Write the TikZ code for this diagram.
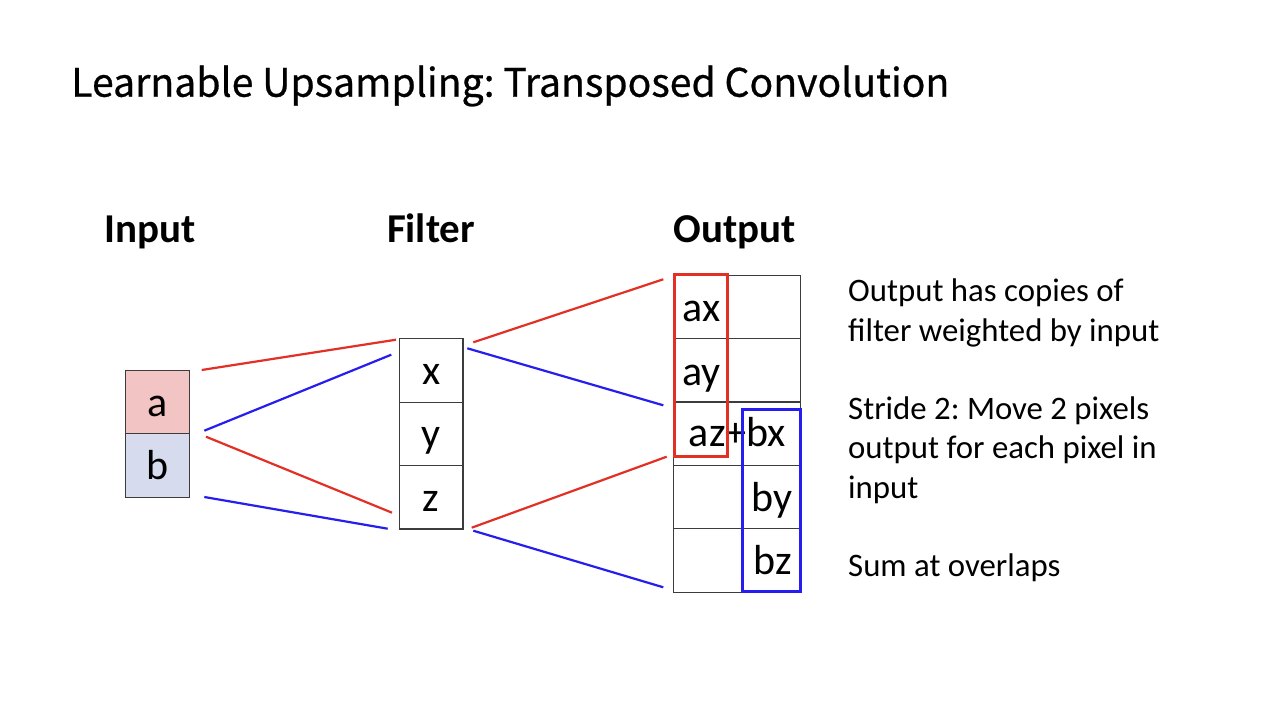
\documentclass[tikz,border=0pt]{standalone}
\usepackage{fontspec}
\setmainfont{Carlito}
\newfontfamily\titlefont[FakeBold=0.6]{Noto Sans CJK KR}
\definecolor{cellA}{RGB}{242,196,196}
\definecolor{cellB}{RGB}{214,220,238}
\definecolor{redL}{RGB}{226,48,38}
\definecolor{blueL}{RGB}{38,30,238}
\definecolor{gridC}{RGB}{60,60,60}
\tikzset{
  cell/.style={draw=gridC, line width=1.2pt, inner sep=0pt, minimum width=63.4pt, minimum height=63.4pt,
    text height=28pt, text depth=0pt, font=\fontsize{42}{42}\selectfont},
  orow/.style={draw=gridC, line width=1.2pt, inner sep=0pt, minimum width=127.4pt, minimum height=63.4pt},
  otext/.style={anchor=base, inner sep=0pt, font=\fontsize{42}{42}\selectfont},
  hdr/.style={anchor=base, inner sep=0pt, font=\fontsize{41}{41}\selectfont\bfseries},
  body/.style={anchor=base west, inner sep=0pt, font=\fontsize{32.8}{39.3}\selectfont, align=left},
  redc/.style={draw=redL, line width=2.2pt},
  bluec/.style={draw=blueL, line width=2.2pt},
  hibox/.style={line width=3pt, inner sep=0pt, minimum height=182.7pt}
}
\begin{document}
\frenchspacing
\begin{tikzpicture}[x=1pt,y=-1pt]
\useasboundingbox[fill=white] (0,0) rectangle (1280,720);
% title
\node[anchor=base west, inner sep=0pt, font=\titlefont\fontsize{39.2}{39.2}\selectfont] (title) at (71,96.7) {Learnable Upsampling: Transposed Convolution};
% headers
\node[hdr] (hin) at (150,242.5) {Input};
\node[hdr] (hfi) at (431,242.5) {Filter};
\node[hdr] (hout) at (735,242.5) {Output};
% input
\node[cell, fill=cellA] (a) at (157.5,402) {a};
\node[cell, fill=cellB] (b) at (157.5,465.4) {b};
% filter
\node[cell] (x) at (431.2,370.5) {x};
\node[cell] (y) at (431.2,433.9) {y};
\node[cell] (z) at (431.2,497.3) {z};
% output rows
\node[orow] (o1) at (737,306.9) {};
\node[orow] (o2) at (737,370.3) {};
\node[orow] (o3) at (737,433.7) {};
\node[orow] (o4) at (737,497.1) {};
\node[orow] (o5) at (737,560.5) {};
\node[otext] (tax) at (701.3,321.7) {ax};
\node[otext] (tay) at (701.3,385) {ay};
\node[otext] (taz) at (737.5,446.7) {az+bx};
\node[otext] (tby) at (771.7,511.7) {by};
\node[otext] (tbz) at (773,574) {bz};
\node[hibox, draw=redL, minimum width=53.4pt] (rbox) at (701,365.35) {};
\node[hibox, draw=blueL, minimum width=58pt] (bbox) at (771.7,500.35) {};
% connector ends
\coordinate (r1s) at (201.7,370);   \coordinate (r1e) at (396,339.7);
\coordinate (b1s) at (204.3,430.7); \coordinate (b1e) at (391.3,354.7);
\coordinate (r2s) at (206,436.7);   \coordinate (r2e) at (392,512.7);
\coordinate (b2s) at (204.3,497);   \coordinate (b2e) at (387.7,528.7);
\coordinate (r3s) at (473.3,342.3); \coordinate (r3e) at (663.3,279.3);
\coordinate (b3s) at (467.3,348.3); \coordinate (b3e) at (663.3,405.3);
\coordinate (r4s) at (471.7,527.7); \coordinate (r4e) at (666.7,456.7);
\coordinate (b4s) at (473.3,530.7); \coordinate (b4e) at (663.3,587.3);
\draw[redc] (r1s) -- (r1e);
\draw[bluec] (b1s) -- (b1e);
\draw[redc] (r2s) -- (r2e);
\draw[bluec] (b2s) -- (b2e);
\draw[redc] (r3s) -- (r3e);
\draw[bluec] (b3s) -- (b3e);
\draw[redc] (r4s) -- (r4e);
\draw[bluec] (b4s) -- (b4e);
% right text (base anchor = baseline of last line)
\node[body] (t1) at (848,341) {Output has copies of\\filter weighted by input};
\node[body] (t2) at (848,498.2) {Stride 2: Move 2 pixels\\output for each pixel in\\input};
\node[body] (t3) at (848,576.8) {Sum at overlaps};
\end{tikzpicture}
\end{document}
